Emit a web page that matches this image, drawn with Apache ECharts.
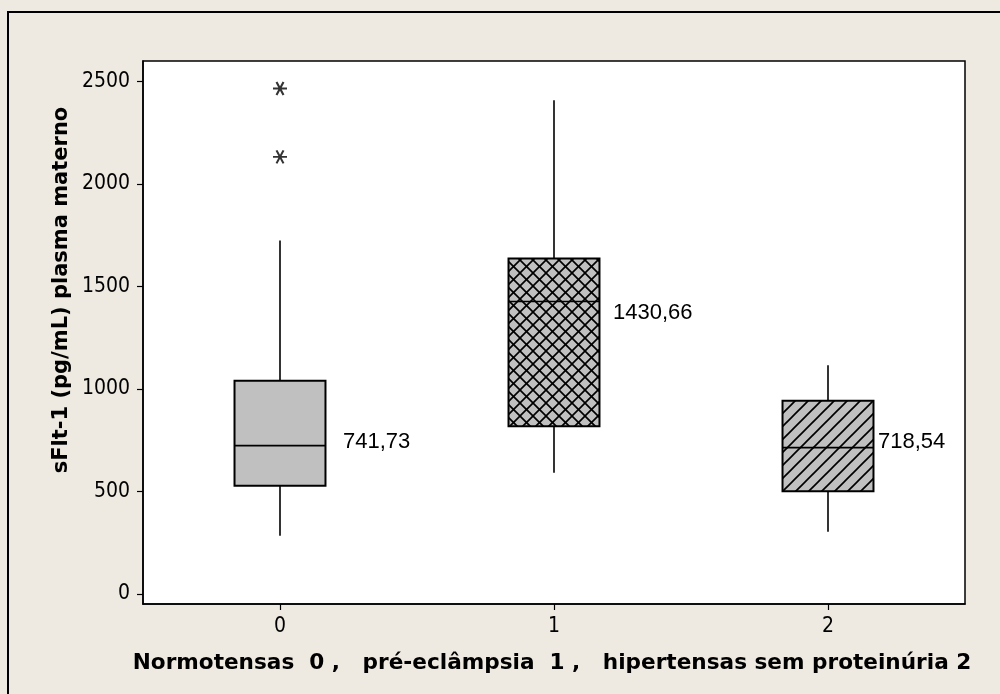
<!DOCTYPE html>
<html>
<head>
<meta charset="utf-8">
<script src="https://cdn.jsdelivr.net/npm/echarts@6/dist/echarts.min.js"></script>
<style>
html,body{margin:0;padding:0;background:#EEEAE1;}
#chart{width:1000px;height:694px;}
</style>
</head>
<body>
<div id="chart"></div>
<script>
// ---- data ----
const categories = ['0', '1', '2'];
const whiskerLow  = [283, 591, 303];
const q1Values    = [527, 817, 500];
const medians     = [723, 1426, 713];
const q3Values    = [1040, 1636, 942];
const whiskerHigh = [1724, 2409, 1115];
const outliers = [[0, 2466], [0, 2132]];
const medianLabelValues = [741.73, 1430.66, 718.54];
const medianLabelTexts  = ['741,73', '1430,66', '718,54'];
const yTicks = [0, 500, 1000, 1500, 2000, 2500];
const yTitle = 'sFlt-1 (pg/mL) plasma materno';
const xTitle = 'Normotensas  0 ,   pré-eclâmpsia  1 ,   hipertensas sem proteinúria 2';

// ---- patterns ----
function makePattern(kind) {
  const s = 13;
  const c = document.createElement('canvas');
  c.width = s; c.height = s;
  const g = c.getContext('2d');
  g.fillStyle = '#C0C0C0';
  g.fillRect(0, 0, s, s);
  g.strokeStyle = '#000';
  g.lineWidth = 1.7;
  function seg(x1, y1, x2, y2) { g.beginPath(); g.moveTo(x1, y1); g.lineTo(x2, y2); g.stroke(); }
  if (kind === 'cross' || kind === 'diag') {
    seg(-1, s + 1, s + 1, -1);
    seg(-2, 2, 2, -2);
    seg(s - 2, s + 2, s + 2, s - 2);
  }
  if (kind === 'cross') {
    seg(-1, -1, s + 1, s + 1);
    seg(-2, s - 2, 2, s + 2);
    seg(s - 2, -2, s + 2, 2);
  }
  return { image: c, repeat: 'repeat' };
}
const fills = ['#C0C0C0', makePattern('cross'), makePattern('diag')];
const labelDx = [63, 59, 50];
const labelDy = [0, 12, -5];

const boxData = categories.map((c, i) => [i, whiskerLow[i], q1Values[i], medians[i], q3Values[i], whiskerHigh[i]]);

const chart = echarts.init(document.getElementById('chart'), null, { renderer: 'canvas' });

const option = {
  backgroundColor: '#EEEAE1',
  animation: false,
  grid: {
    left: 143, right: 35, top: 61, bottom: 90,
    show: true, backgroundColor: '#FFFFFF', borderColor: '#000', borderWidth: 1.5
  },
  xAxis: {
    type: 'category',
    data: categories,
    boundaryGap: true,
    axisLine: { show: true, onZero: false, lineStyle: { color: '#000', width: 1.5 } },
    axisTick: { show: true, alignWithLabel: true, length: 6, lineStyle: { color: '#000', width: 1.2 } },
    axisLabel: { color: '#000', fontFamily: 'DejaVu Sans Condensed, DejaVu Sans', fontSize: 21, margin: 12 },
    splitLine: { show: false }
  },
  yAxis: {
    type: 'value',
    min: -50, max: 2600,
    axisLine: { show: true, lineStyle: { color: '#000', width: 1.5 } },
    axisTick: { show: true, length: 6, customValues: yTicks, lineStyle: { color: '#000', width: 1.2 } },
    axisLabel: { color: '#000', fontFamily: 'DejaVu Sans Condensed, DejaVu Sans', fontSize: 21, margin: 13,
                 customValues: yTicks, formatter: function (v) { return String(v); } },
    splitLine: { show: false }
  },
  graphic: [
    { type: 'rect', z: 100, silent: true,
      shape: { x: 8, y: 12, width: 1100, height: 800 },
      style: { fill: 'none', stroke: '#000', lineWidth: 2 } },
    { type: 'text', z: 100, silent: true, x: 62, y: 290, rotation: Math.PI / 2,
      style: { text: yTitle, fill: '#000', font: 'bold 21px "DejaVu Sans", sans-serif',
               align: 'center', verticalAlign: 'middle' } },
    { type: 'text', z: 100, silent: true, x: 552, y: 663,
      style: { text: xTitle, fill: '#000', font: 'bold 21.6px "DejaVu Sans", sans-serif',
               align: 'center', verticalAlign: 'middle' } }
  ],
  series: [
    {
      type: 'custom',
      data: boxData,
      z: 5,
      renderItem: function (params, api) {
        const idx = api.value(0);
        const pLow = api.coord([idx, api.value(1)]);
        const pQ1 = api.coord([idx, api.value(2)]);
        const pMed = api.coord([idx, api.value(3)]);
        const pQ3 = api.coord([idx, api.value(4)]);
        const pHigh = api.coord([idx, api.value(5)]);
        const cx = pQ1[0];
        const hw = api.size([1, 0])[0] * 0.166;
        const lineStyle = { stroke: '#000', lineWidth: 1.6 };
        const lblPos = api.coord([idx, medianLabelValues[idx]]);
        return {
          type: 'group',
          children: [
            { type: 'line', shape: { x1: cx, y1: pQ3[1], x2: cx, y2: pHigh[1] }, style: lineStyle },
            { type: 'line', shape: { x1: cx, y1: pQ1[1], x2: cx, y2: pLow[1] }, style: lineStyle },
            { type: 'rect', shape: { x: cx - hw, y: pQ3[1], width: 2 * hw, height: pQ1[1] - pQ3[1] },
              style: { fill: fills[idx], stroke: '#000', lineWidth: 2 } },
            { type: 'line', shape: { x1: cx - hw, y1: pMed[1], x2: cx + hw, y2: pMed[1] }, style: lineStyle },
            { type: 'text', x: cx + labelDx[idx], y: lblPos[1] + labelDy[idx],
              style: { text: medianLabelTexts[idx], fill: '#000',
                       font: '22px "Liberation Sans", Arial, sans-serif',
                       align: 'left', verticalAlign: 'middle' } }
          ]
        };
      }
    },
    {
      type: 'scatter',
      data: outliers,
      z: 6,
      symbol: 'path://M-6,0L6,0M-3,-5.2L3,5.2M-3,5.2L3,-5.2',
      symbolSize: [14, 13],
      itemStyle: { color: 'none', borderColor: '#000', borderWidth: 2 }
    }
  ]
};
chart.setOption(option);
</script>
</body>
</html>
